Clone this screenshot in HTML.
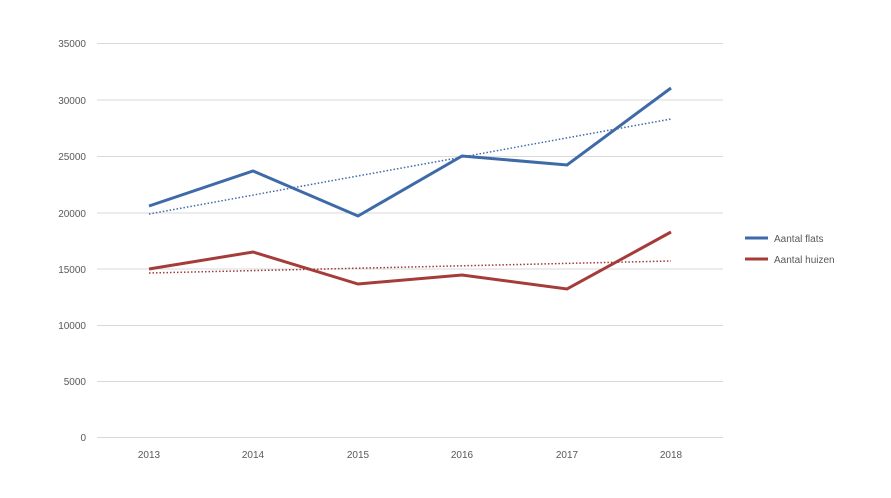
<!DOCTYPE html>
<html><head><style>body{margin:0;background:#fff}svg{display:block}</style></head><body>
<svg width="891" height="498" viewBox="0 0 891 498" font-family="Liberation Sans, sans-serif" font-size="10" fill="#595959">
<g stroke="#d9d9d9" stroke-width="1">
<line x1="97" x2="723" y1="43.5" y2="43.5"/><line x1="97" x2="723" y1="100" y2="100"/><line x1="97" x2="723" y1="156.5" y2="156.5"/><line x1="97" x2="723" y1="213" y2="213"/><line x1="97" x2="723" y1="269" y2="269"/><line x1="97" x2="723" y1="325.5" y2="325.5"/><line x1="97" x2="723" y1="381.5" y2="381.5"/><line x1="97" x2="723" y1="437.5" y2="437.5"/>
</g>
<g text-anchor="end">
<text x="86" y="47">35000</text><text x="86" y="104">30000</text><text x="86" y="160">25000</text><text x="86" y="217">20000</text><text x="86" y="273">15000</text><text x="86" y="329">10000</text><text x="86" y="385">5000</text><text x="86" y="441">0</text>
</g>
<g text-anchor="middle">
<text x="149" y="458">2013</text><text x="253" y="458">2014</text><text x="358" y="458">2015</text><text x="462" y="458">2016</text><text x="567" y="458">2017</text><text x="671" y="458">2018</text>
</g>
<line x1="149" y1="214" x2="671" y2="119" stroke="#3e6aa8" stroke-width="1.5" stroke-dasharray="1.5,2"/>
<line x1="149" y1="273" x2="671" y2="261" stroke="#9e3a38" stroke-width="1.5" stroke-dasharray="1.5,2"/>
<polyline points="149,206 253,171 358,216 462,156 567,165 671,88" fill="none" stroke="#3e6aa8" stroke-width="3"/>
<polyline points="149,269 253,252 358,284 462,275 567,289 671,232" fill="none" stroke="#a53c3a" stroke-width="3"/>
<line x1="745" x2="768" y1="238" y2="238" stroke="#3e6aa8" stroke-width="3"/>
<line x1="745" x2="768" y1="259" y2="259" stroke="#a53c3a" stroke-width="3"/>
<text x="774" y="242">Aantal flats</text>
<text x="774" y="263">Aantal huizen</text>
</svg>
</body></html>
